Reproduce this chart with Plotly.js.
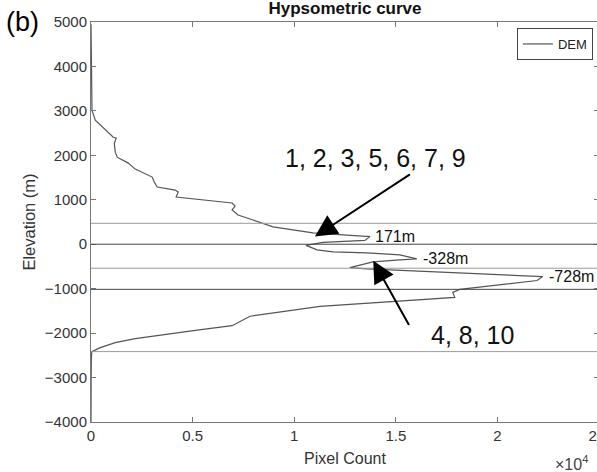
<!DOCTYPE html>
<html>
<head>
<meta charset="utf-8">
<script src="https://cdn.plot.ly/plotly-3.0.1.min.js"></script>
<style>
html,body{margin:0;padding:0;overflow:hidden;background:#fff;}
#chart{width:620px;height:472px;}
</style>
</head>
<body>
<div id="chart"></div>
<script>
// Hypsometric curve: pixel count per elevation
const pixelCount = [0, 10, 30, 40, 49, 211, 604, 1096, 1243, 1145, 1194, 1292, 1833, 2177, 3012, 3111, 3258, 4143, 4290, 4192,
  6943, 7091, 6943, 7238, 7975, 8957, 10923, 13577, 13725, 13479, 11415, 10580, 11120, 11906, 13577, 15199, 16035,
  15199, 13872, 12742, 13577, 22225, 21954, 18147, 17803, 17901, 14216, 11268, 7828, 6993, 6943, 5223, 2177, 1194,
  457, 39, 15, 5, 0];
const elevation = [4950, 4500, 4100, 3500, 3014, 2790, 2610, 2408, 2386, 2274, 2072, 1959, 1825, 1690, 1511, 1398, 1286, 1219, 1174, 1062,
  927, 860, 770, 658, 546, 389, 254, 164, 171, 85, 40, -26, -127, -172, -194, -239, -328,
  -354, -399, -525, -554, -728, -816, -1017, -1084, -1196, -1306, -1400, -1620, -1811, -1833, -1934, -2125, -2215,
  -2327, -2416, -2600, -3200, -4000];

// horizontal reference lines (elevation, m)
const refLines = [471, 0, -540, -1015, -2416];
const refDark = [false, true, false, true, false];

// peak labels
const peakCounts = [13900, 16250, 22450];
const peakElev = [171, -328, -728];
const peakText = ['171m', '-328m', '-728m'];

// tick labels
const xTickVals = [0, 5000, 10000, 15000, 20000, 25000];
const xTickText = ['0', '0.5', '1', '1.5', '2', '2.5'];
const yTickVals = [5000, 4000, 3000, 2000, 1000, 0, -1000, -2000, -3000, -4000];

// group annotations: text, text position (count, elev), arrow tail, arrow tip
const groupText = ['1, 2, 3, 5, 6, 7, 9', '4, 8, 10'];
const groupTextPos = [[14000, 1950], [18790, -2040]];
const groupTail = [[15770, 1595], [15690, -1850]];
const groupTip = [[11020, 171], [13890, -370]];

const FONT = 'Liberation Sans, Arial, sans-serif';

const shapes = refLines.map((e, i) => ({
  type: 'line', xref: 'paper', x0: 0, x1: 1, yref: 'y', y0: e, y1: e,
  line: {color: refDark[i] ? '#444' : '#9a9a9a', width: 1}
}));

const annotations = [];
peakText.forEach((t, i) => annotations.push({
  x: peakCounts[i], y: peakElev[i], xref: 'x', yref: 'y', text: t, showarrow: false,
  xanchor: 'left', yanchor: 'middle', font: {family: FONT, size: 16, color: '#111'}
}));
groupText.forEach((t, i) => {
  annotations.push({
    x: groupTextPos[i][0], y: groupTextPos[i][1], xref: 'x', yref: 'y', text: t, showarrow: false,
    xanchor: 'center', yanchor: 'middle', font: {family: FONT, size: 25, color: '#111'}
  });
  annotations.push({
    x: groupTip[i][0], y: groupTip[i][1], xref: 'x', yref: 'y',
    ax: groupTail[i][0], ay: groupTail[i][1], axref: 'x', ayref: 'y',
    text: '', showarrow: true, arrowhead: 2, arrowsize: 2.2, arrowwidth: 2, arrowcolor: '#000', standoff: 0, startstandoff: 0
  });
});
annotations.push({
  x: -0.135, y: 1.0, xref: 'paper', yref: 'paper', text: '(b)', showarrow: false,
  xanchor: 'center', yanchor: 'middle', font: {family: FONT, size: 27, color: '#000'}
});
annotations.push({
  x: 0.91, y: -0.103, xref: 'paper', yref: 'paper', text: '×10<sup>4</sup>', showarrow: false,
  xanchor: 'left', yanchor: 'middle', font: {family: FONT, size: 16, color: '#444'}
});

const trace = {
  x: pixelCount, y: elevation, type: 'scatter', mode: 'lines', name: 'DEM',
  line: {color: '#555', width: 1.2}
};

const layout = {
  width: 620, height: 472,
  margin: {l: 90.7, r: 20.6, t: 21.5, b: 49.5, pad: 0},
  paper_bgcolor: '#fff', plot_bgcolor: '#fff',
  font: {family: FONT, size: 15, color: '#333'},
  showlegend: true,
  title: {text: 'Hypsometric curve', x: 0.5, xref: 'paper', xanchor: 'center', y: 0.982, yref: 'container', yanchor: 'middle',
    font: {family: FONT, size: 17, color: '#111', weight: 'bold'}},
  xaxis: {
    range: [0, 25000], tickvals: xTickVals, ticktext: xTickText, ticks: 'inside', ticklen: 5, tickcolor: '#777',
    showline: true, linecolor: '#777', linewidth: 1, mirror: 'ticks', showgrid: false, zeroline: false,
    tickfont: {size: 15, color: '#333'},
    title: {text: 'Pixel Count', standoff: 9, font: {size: 16, color: '#333'}}
  },
  yaxis: {
    range: [-4000, 5000], tickvals: yTickVals, ticks: 'inside', ticklen: 5, tickcolor: '#777',
    showline: true, linecolor: '#777', linewidth: 1, mirror: 'ticks', showgrid: false, zeroline: false,
    tickfont: {size: 15, color: '#333'},
    title: {text: 'Elevation (m)', standoff: 5, font: {size: 16.5, color: '#333'}}
  },
  legend: {x: 0.988, y: 0.985, xanchor: 'right', yanchor: 'top', bgcolor: '#fff', bordercolor: '#444', borderwidth: 1,
    font: {family: FONT, size: 13, color: '#222'}},
  shapes: shapes,
  annotations: annotations
};

Plotly.newPlot('chart', [trace], layout, {displayModeBar: false, staticPlot: true});
</script>
</body>
</html>
